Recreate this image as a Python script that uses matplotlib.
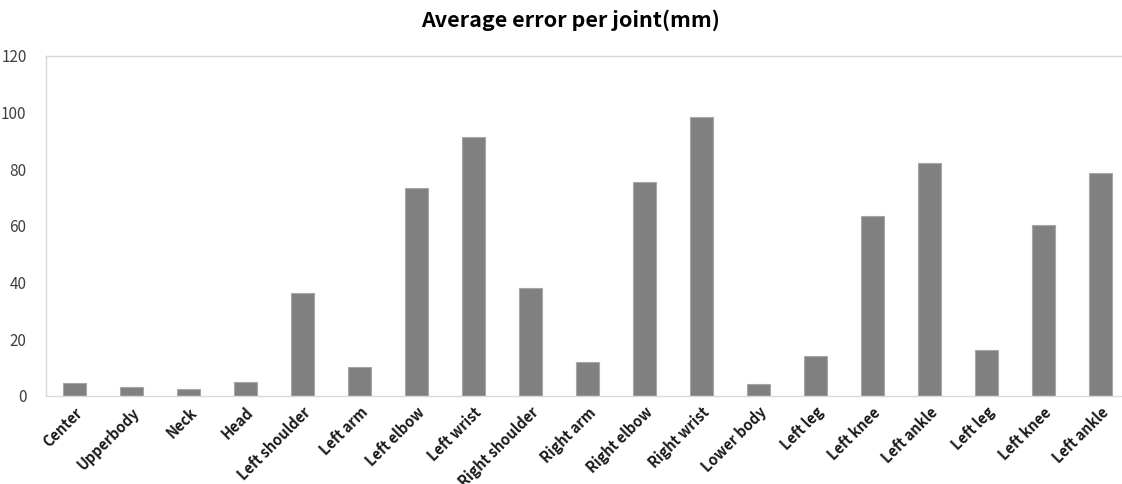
import matplotlib.pyplot as plt
import numpy as np

plt.rcParams['font.family'] = ['Noto Sans CJK KR', 'DejaVu Sans']

joints = ['Center', 'Upperbody', 'Neck', 'Head', 'Left shoulder', 'Left arm',
          'Left elbow', 'Left wrist', 'Right shoulder', 'Right arm', 'Right elbow',
          'Right wrist', 'Lower body', 'Left leg', 'Left knee', 'Left ankle',
          'Left leg', 'Left knee', 'Left ankle']
errors = [4.5, 3.2, 2.6, 4.8, 36.3, 10.2, 73.4, 91.4, 38.1, 12.0, 75.5,
          98.5, 4.1, 14.1, 63.5, 82.2, 16.2, 60.2, 78.6]
yticks = [0, 20, 40, 60, 80, 100, 120]

W, H = 1122, 484
fig = plt.figure(figsize=(W / 100, H / 100), dpi=100)
# plot area: left 46px, top 55.5px, bottom 396px, cropped on the right
ax = fig.add_axes([46 / W, 1 - 396 / H, (W - 46) / W, (396 - 55.5) / H])

x = np.arange(len(joints))
ax.bar(x, errors, width=0.4, color='#808080', edgecolor='#a6a6a6', linewidth=0.8, zorder=2)

cat_w = 57.0
ax.set_xlim(-0.5, -0.5 + (W - 46) / cat_w)
ax.set_ylim(0, 120)
ax.set_yticks(yticks)
ax.tick_params(axis='y', length=0, pad=14, labelsize=11, labelcolor='#404040')
ax.tick_params(axis='x', length=0, pad=6)
ax.set_xticks(x)
ax.set_xticklabels(joints, rotation=45, ha='right', rotation_mode='anchor',
                   fontsize=10.5, fontweight='bold', color='#1a1a1a')

for s in ['left', 'bottom', 'top']:
    ax.spines[s].set_color('#d9d9d9')
    ax.spines[s].set_linewidth(1.0)
ax.spines['right'].set_visible(False)

fig.text(571 / W, 1 - 20 / H, 'Average error per joint(mm)', ha='center', va='center',
         fontsize=15.5, fontweight='bold', color='#000000')

fig.savefig('out.png', dpi=100)
